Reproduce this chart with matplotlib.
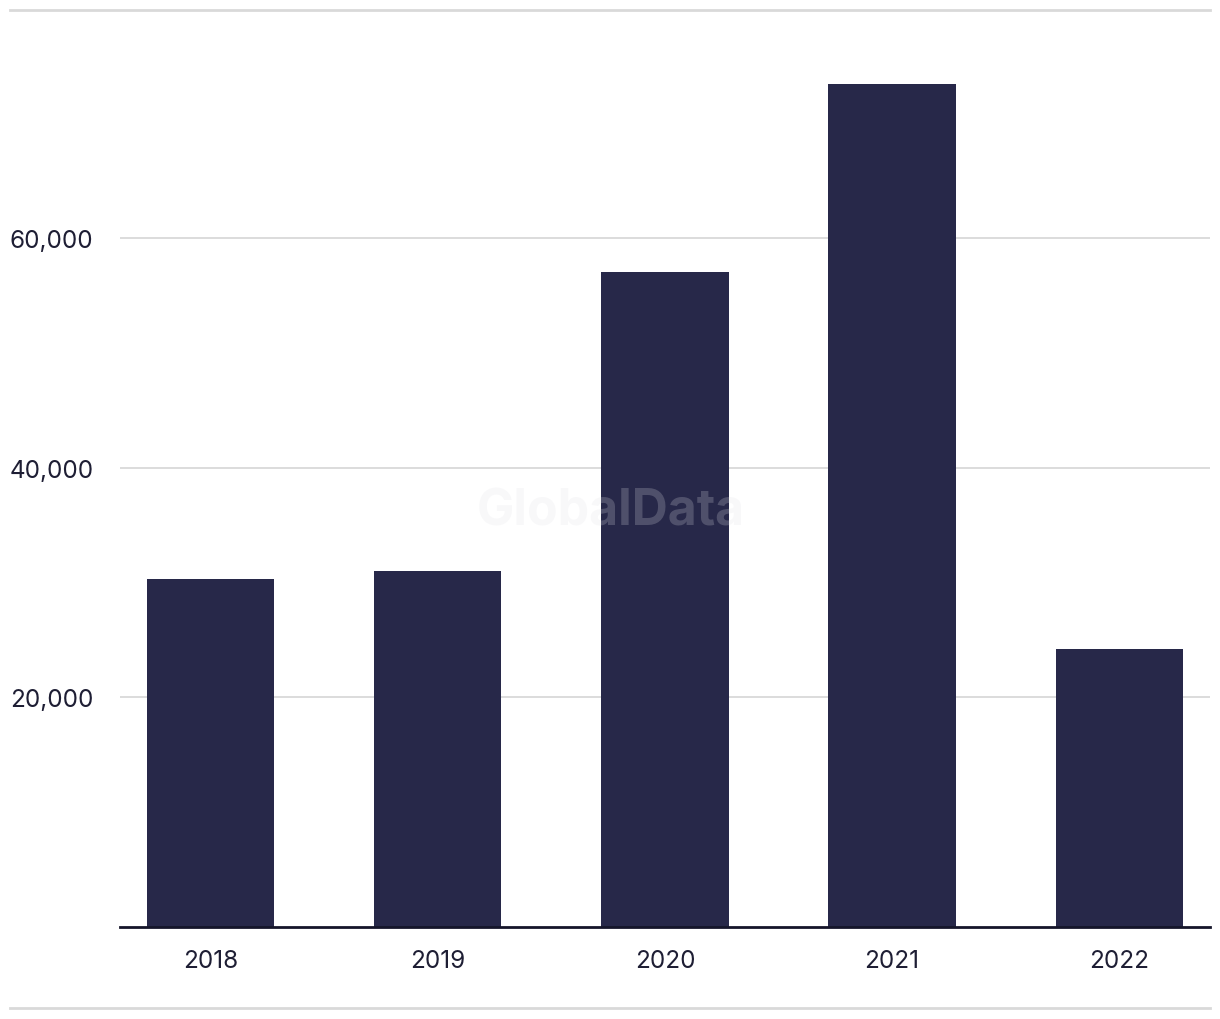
import matplotlib.pyplot as plt
from matplotlib.lines import Line2D

# jaar en waarden
years = ['2018', '2019', '2020', '2021', '2022']
values = [30300, 31000, 57000, 73400, 24200]
yticks = [20000, 40000, 60000]

plt.rcParams['font.family'] = ['Inter', 'DejaVu Sans']

fig = plt.figure(figsize=(12.2, 10.2), dpi=100)
ax = fig.add_axes([120 / 1220, 92 / 1020, 1090 / 1220, 900 / 1020])

x = list(range(len(years)))
ax.bar(x, values, width=0.56, color='#272849', zorder=2)

ax.set_xlim(-0.4, 4.4)
ax.set_ylim(0, 900 / 229.7 * 20000)
ax.set_xticks(x)
ax.set_xticklabels(years)
ax.set_yticks(yticks)
ax.set_yticklabels([f'{v:,}' for v in yticks])
ax.tick_params(axis='both', length=0, labelsize=17.5, colors='#1e1e34')
ax.tick_params(axis='y', pad=19)
ax.tick_params(axis='x', pad=16)
ax.grid(axis='y', color='#d9d9d9', linewidth=1.3, zorder=0)

for s in ['top', 'right', 'left']:
    ax.spines[s].set_visible(False)
ax.spines['bottom'].set_color('#15152a')
ax.spines['bottom'].set_linewidth(2)
ax.spines['bottom'].set_zorder(3)

# watermerk
ax.text(0.45, 0.462, 'GlobalData', transform=ax.transAxes, ha='center', va='center',
        fontsize=36, fontweight='bold', color='#e0e0e6', alpha=0.22, zorder=4)

# lijnen boven en onder
fig.add_artist(Line2D([10 / 1220, 1210 / 1220], [1 - 11 / 1020] * 2, color='#d9d9d9', lw=2))
fig.add_artist(Line2D([10 / 1220, 1210 / 1220], [1 - 1009 / 1020] * 2, color='#d9d9d9', lw=2))

fig.savefig('out.png', dpi=100, facecolor='white')
